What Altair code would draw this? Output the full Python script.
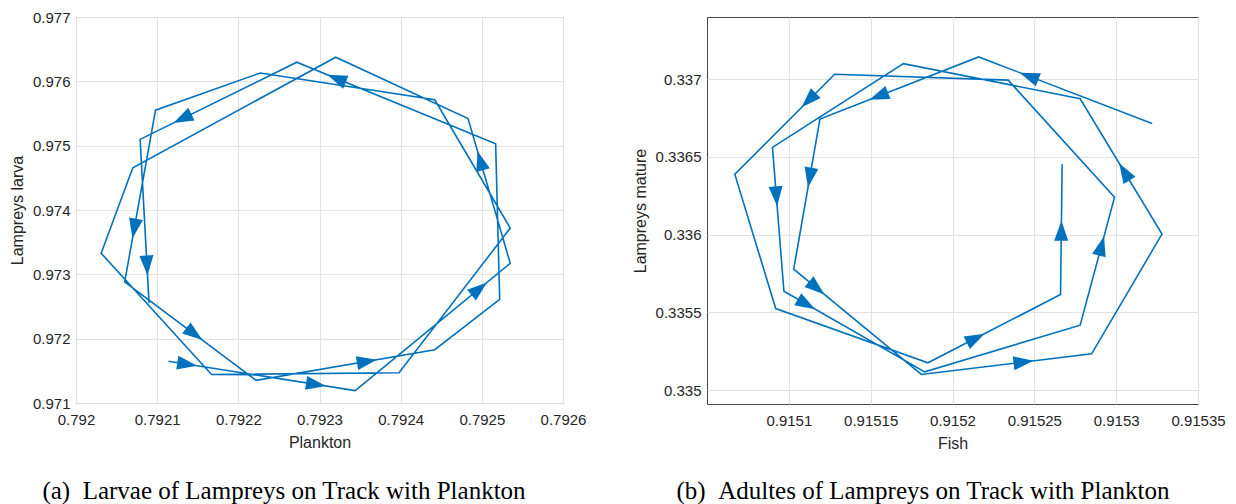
import math
import altair as alt
import pandas as pd

# ---------------- Panel (a): Plankton vs Lampreys larva ----------------
plankton = [0.792114, 0.792344, 0.792535, 0.792483, 0.792320, 0.792070, 0.792031,
            0.792167, 0.792398, 0.792535, 0.792442, 0.792227, 0.792098, 0.792060,
            0.792222, 0.792442, 0.792522, 0.792517, 0.792272, 0.792079, 0.792090]
larva = [0.971650, 0.971192, 0.973172, 0.975422, 0.976375, 0.974656, 0.973328,
         0.971442, 0.971469, 0.973719, 0.975713, 0.976130, 0.975552, 0.972884,
         0.971353, 0.971828, 0.972609, 0.975031, 0.976297, 0.975098, 0.972552]
arrows_a_seg = [0, 0, 1, 2, 17, 18, 12, 19, 13, 14]
arrows_a_frac = [0.10, 0.79, 0.80, 0.71, 0.80, 0.73, 0.69, 0.77, 0.53, 0.62]
x_ticks_a = [0.792, 0.7921, 0.7922, 0.7923, 0.7924, 0.7925, 0.7926]
y_ticks_a = [0.971, 0.972, 0.973, 0.974, 0.975, 0.976, 0.977]

# ---------------- Panel (b): Fish vs Lampreys mature ----------------
fish = [0.915322, 0.915216, 0.915119, 0.915103, 0.915181, 0.915285, 0.915328,
        0.915278, 0.915170, 0.915090, 0.915097, 0.915183, 0.915278, 0.915299,
        0.915234, 0.915128, 0.915067, 0.915092, 0.915185, 0.915266, 0.915267]
mature = [0.336715, 0.337143, 0.336743, 0.335778, 0.335100, 0.335233, 0.336003,
          0.336874, 0.337100, 0.336561, 0.335635, 0.335117, 0.335417, 0.336240,
          0.336994, 0.337032, 0.336388, 0.335524, 0.335175, 0.335614, 0.336452]
arrows_b_seg = [0, 1, 15, 2, 9, 3, 10, 18, 4, 19, 12, 6]
arrows_b_frac = [0.71, 0.63, 0.26, 0.39, 0.34, 0.18, 0.16, 0.36, 0.60, 0.49, 0.62, 0.46]
x_ticks_b = [0.9151, 0.91515, 0.9152, 0.91525, 0.9153, 0.91535]
y_ticks_b = [0.335, 0.3355, 0.336, 0.3365, 0.337]

BLUE = "#0072BD"
ARROW = "M0,-1L0.7,1L-0.7,1Z"


def panel(xs, ys, segs, fracs, xdom, ydom, W, H, xvals, yvals, xfmt, yfmt,
          xtitle, ytitle, y_ext, y_tpad, caption, cap_x, cap_y):
    df = pd.DataFrame({"i": list(range(len(xs))), "x": xs, "y": ys})
    sx = W / (xdom[1] - xdom[0])
    sy = H / (ydom[1] - ydom[0])
    ax, ay, ang = [], [], []
    for s, f in zip(segs, fracs):
        x0, y0, x1, y1 = xs[s], ys[s], xs[s + 1], ys[s + 1]
        ax.append(x0 + f * (x1 - x0))
        ay.append(y0 + f * (y1 - y0))
        ang.append(math.degrees(math.atan2((x1 - x0) * sx, (y1 - y0) * sy)) % 360)
    adf = pd.DataFrame({"x": ax, "y": ay, "ang": ang})

    xscale = alt.Scale(domain=xdom, nice=False, zero=False)
    yscale = alt.Scale(domain=ydom, nice=False, zero=False)
    xaxis = alt.Axis(values=xvals, format=xfmt, title=xtitle, ticks=False, domain=False,
                     labelPadding=9, labelFlush=False, labelOverlap=False,
                     minExtent=25, maxExtent=25, titlePadding=6)
    yaxis = alt.Axis(values=yvals, format=yfmt, title=ytitle, ticks=False, domain=False,
                     labelPadding=6, labelFlush=False, labelOverlap=False,
                     minExtent=y_ext, maxExtent=y_ext, titlePadding=y_tpad)

    line = alt.Chart(df).mark_line(color=BLUE, strokeWidth=1.6, strokeJoin="miter").encode(
        x=alt.X("x:Q", scale=xscale, axis=xaxis),
        y=alt.Y("y:Q", scale=yscale, axis=yaxis),
        order=alt.Order("i:Q"),
    )
    arrows = alt.Chart(adf).mark_point(shape=ARROW, filled=True, size=400, color=BLUE,
                                       opacity=1, strokeWidth=0).encode(
        x=alt.X("x:Q", scale=xscale),
        y=alt.Y("y:Q", scale=yscale),
        angle=alt.Angle("ang:Q", scale=None),
    )
    cap = alt.Chart(pd.DataFrame({"t": [caption]})).mark_text(
        font="Liberation Serif", fontSize=25, align="center", baseline="middle",
        color="black").encode(x=alt.value(cap_x), y=alt.value(cap_y), text="t:N")
    return alt.layer(line, arrows, cap).properties(width=W, height=H)


pa = panel(plankton, larva, arrows_a_seg, arrows_a_frac, [0.792, 0.7926], [0.971, 0.977],
           487, 386, x_ticks_a, y_ticks_a, ".4~f", ".3f", "Plankton", "Lampreys larva",
           45, 6, "(a)\u2002Larvae of Lampreys on Track with Plankton", 208, 474)
pb = panel(fish, mature, arrows_b_seg, arrows_b_frac, [0.91505, 0.91535], [0.33491, 0.3374],
           491, 387, x_ticks_b, y_ticks_b, ".5~f", ".4~f", "Fish", "Lampreys mature",
           52, 7, "(b)\u2002Adultes of Lampreys on Track with Plankton", 216, 474)

chart = alt.hconcat(pa, pb, spacing=144, bounds="flush").properties(
    padding={"left": 8, "top": 9, "right": 5, "bottom": 0},
    background="white",
).configure_view(stroke="#444444", strokeWidth=1).configure_axis(
    labelFont="Liberation Sans", titleFont="Liberation Sans",
    labelFontSize=15, titleFontSize=16,
    labelColor="#262626", titleColor="#262626", titleFontWeight="normal",
    gridColor="#e2e2e2", gridWidth=1,
)

chart.save("out.html", embed_options={"renderer": "svg", "actions": False})
